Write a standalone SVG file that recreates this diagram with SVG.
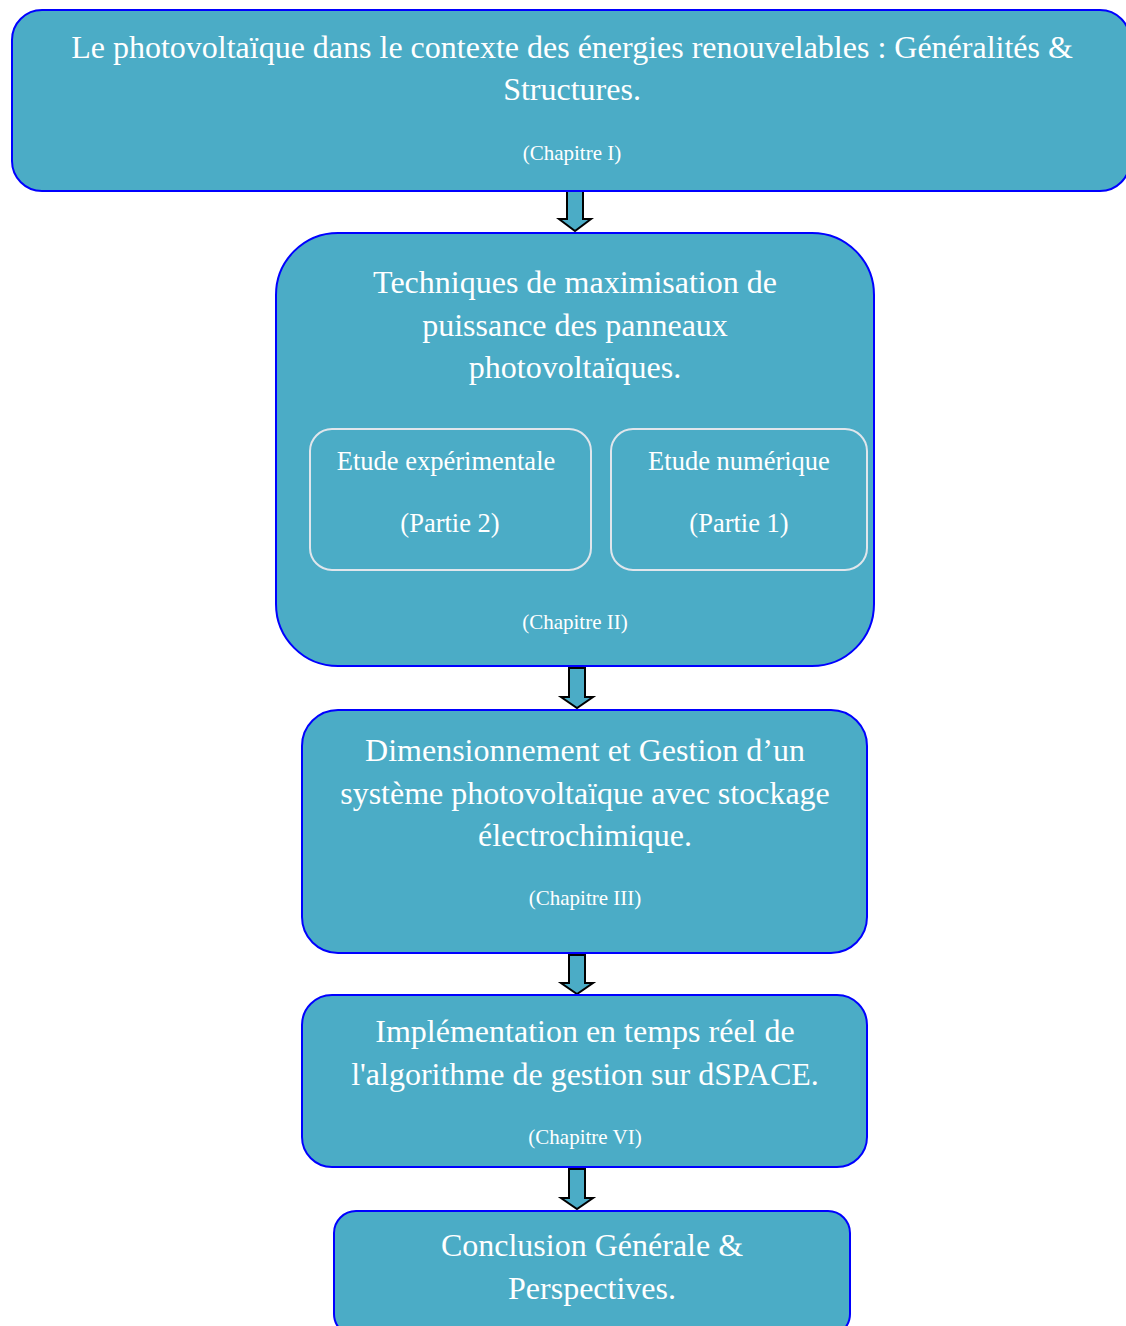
<svg xmlns="http://www.w3.org/2000/svg" width="1126" height="1326" viewBox="0 0 1126 1326">
<style>
.box{fill:#4BACC6;stroke:#0000FF;stroke-width:2}
.sub{fill:none;stroke:#E0E6EC;stroke-width:2}
.arr{fill:#4BACC6;stroke:#000;stroke-width:2;stroke-linejoin:miter}
text{font-family:"Liberation Serif","Times New Roman",serif;fill:#fff;text-anchor:middle}
.t{font-size:32px}
.s{font-size:21px}
.m{font-size:26.5px}
</style>
<rect width="1126" height="1326" fill="#fff"/>
<g id="connectors">
<path class="arr" d="M567,191 L583,191 L583,219 L591,219 L575,231 L559,219 L567,219 Z"/>
<path class="arr" d="M569,668 L585,668 L585,697 L593,697 L577,708 L561,697 L569,697 Z"/>
<path class="arr" d="M569,955 L585,955 L585,983 L593,983 L577,994 L561,983 L569,983 Z"/>
<path class="arr" d="M569,1169 L585,1169 L585,1198 L593,1198 L577,1209 L561,1198 L569,1198 Z"/>
</g>
<g id="node1">
<rect class="box" x="12" y="10" width="1118" height="181" rx="30"/>
<text class="t" x="572" y="58">Le photovoltaïque dans le contexte des énergies renouvelables : Généralités &amp;</text>
<text class="t" x="572" y="100">Structures.</text>
<text class="s" x="572" y="160">(Chapitre I)</text>
</g>
<g id="node2">
<rect class="box" x="276" y="233" width="598" height="433" rx="62"/>
<text class="t" x="575" y="293">Techniques de maximisation de</text>
<text class="t" x="575" y="336">puissance des panneaux</text>
<text class="t" x="575" y="378">photovoltaïques.</text>
<text class="s" x="575" y="629">(Chapitre II)</text>
</g>
<g id="node2a">
<rect class="sub" x="310" y="429" width="281" height="141" rx="22"/>
<text class="m" x="446" y="470">Etude expérimentale</text>
<text class="m" x="450" y="532">(Partie 2)</text>
</g>
<g id="node2b">
<rect class="sub" x="611" y="429" width="256" height="141" rx="22"/>
<text class="m" x="739" y="470">Etude numérique</text>
<text class="m" x="739" y="532">(Partie 1)</text>
</g>
<g id="node3">
<rect class="box" x="302" y="710" width="565" height="243" rx="36"/>
<text class="t" x="585" y="761">Dimensionnement et Gestion d’un</text>
<text class="t" x="585" y="804">système photovoltaïque avec stockage</text>
<text class="t" x="585" y="846">électrochimique.</text>
<text class="s" x="585" y="905">(Chapitre III)</text>
</g>
<g id="node4">
<rect class="box" x="302" y="995" width="565" height="172" rx="30"/>
<text class="t" x="585" y="1042">Implémentation en temps réel de</text>
<text class="t" x="585" y="1085">l'algorithme de gestion sur dSPACE.</text>
<text class="s" x="585" y="1144">(Chapitre VI)</text>
</g>
<g id="node5">
<rect class="box" x="334" y="1211" width="516" height="125" rx="22"/>
<text class="t" x="592" y="1256">Conclusion Générale &amp;</text>
<text class="t" x="592" y="1299">Perspectives.</text>
</g>
</svg>
